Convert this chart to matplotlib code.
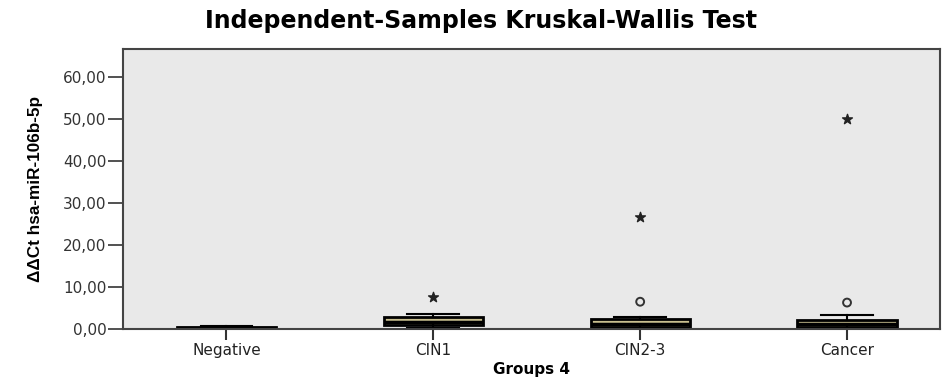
import matplotlib.pyplot as plt
from matplotlib import font_manager

groups = ["Negative", "CIN1", "CIN2-3", "Cancer"]
q1 = [0.05, 1.0, 0.5, 0.4]
med = [0.2, 1.6, 1.2, 1.1]
q3 = [0.5, 2.9, 2.4, 2.1]
whis_lo = [0.0, 0.3, 0.2, 0.2]
whis_hi = [0.6, 3.6, 2.8, 3.3]

# outliers (circles) and extremes (stars) per group
out_vals = [[], [], [6.5], [6.3]]
ext_vals = [[], [7.6], [26.6], [50.1]]

yticks = [0, 10, 20, 30, 40, 50, 60]

fams = {f.name for f in font_manager.fontManager.ttflist}
narrow = "Liberation Sans Narrow" if "Liberation Sans Narrow" in fams else "Liberation Sans"
plt.rcParams['font.family'] = ['DejaVu Sans']

fig = plt.figure(figsize=(9.42, 3.82), dpi=100)
ax = fig.add_axes([0.1306, 0.1387, 0.8674, 0.733])
ax.set_facecolor('#e9e9e9')

stats = []
for i, g in enumerate(groups):
    stats.append(dict(label=g, q1=q1[i], med=med[i], q3=q3[i],
                      whislo=whis_lo[i], whishi=whis_hi[i], fliers=[]))

ax.bxp(stats, positions=range(len(groups)), widths=0.48, showfliers=False,
       patch_artist=True,
       boxprops=dict(facecolor='#c9bf8f', edgecolor='black', linewidth=2),
       medianprops=dict(color='black', linewidth=2.5),
       whiskerprops=dict(color='black', linewidth=1.5),
       capprops=dict(color='black', linewidth=1.5),
       capwidths=0.25)

for i in range(len(groups)):
    if out_vals[i]:
        ax.scatter([i] * len(out_vals[i]), out_vals[i], s=32, marker='o',
                   facecolors='none', edgecolors='#333333', linewidths=1.4, zorder=5)
    if ext_vals[i]:
        ax.scatter([i] * len(ext_vals[i]), ext_vals[i], s=55, marker='*',
                   color='#222222', zorder=5)

ax.set_xlim(-0.5, 3.45)
ax.set_ylim(0, 66.7)
ax.set_yticks(yticks)
ax.set_yticklabels([f"{v},00" for v in yticks], fontsize=11, color='#333333')
ax.set_xticks(range(len(groups)))
ax.set_xticklabels(groups, fontsize=11, color='#222222')
ax.tick_params(axis='y', length=11, width=1.2, color='#333333', pad=1)
ax.tick_params(axis='x', length=8, width=1.5, color='#333333', pad=2)

for side in ['left', 'bottom', 'top', 'right']:
    ax.spines[side].set_color('#444444')
    ax.spines[side].set_linewidth(1.5)

ax.set_ylabel("ΔΔCt hsa-miR-106b-5p", fontsize=12.3, fontweight='bold',
              family=[narrow, 'DejaVu Sans'])
ax.yaxis.set_label_coords(-0.098, 0.5)
ax.set_xlabel("Groups 4", fontsize=11, fontweight='bold', labelpad=3)

fig.text(0.511, 0.945, "Independent-Samples Kruskal-Wallis Test", ha='center', va='center',
         fontsize=17, fontweight='bold')

fig.savefig("out.png", dpi=100)
